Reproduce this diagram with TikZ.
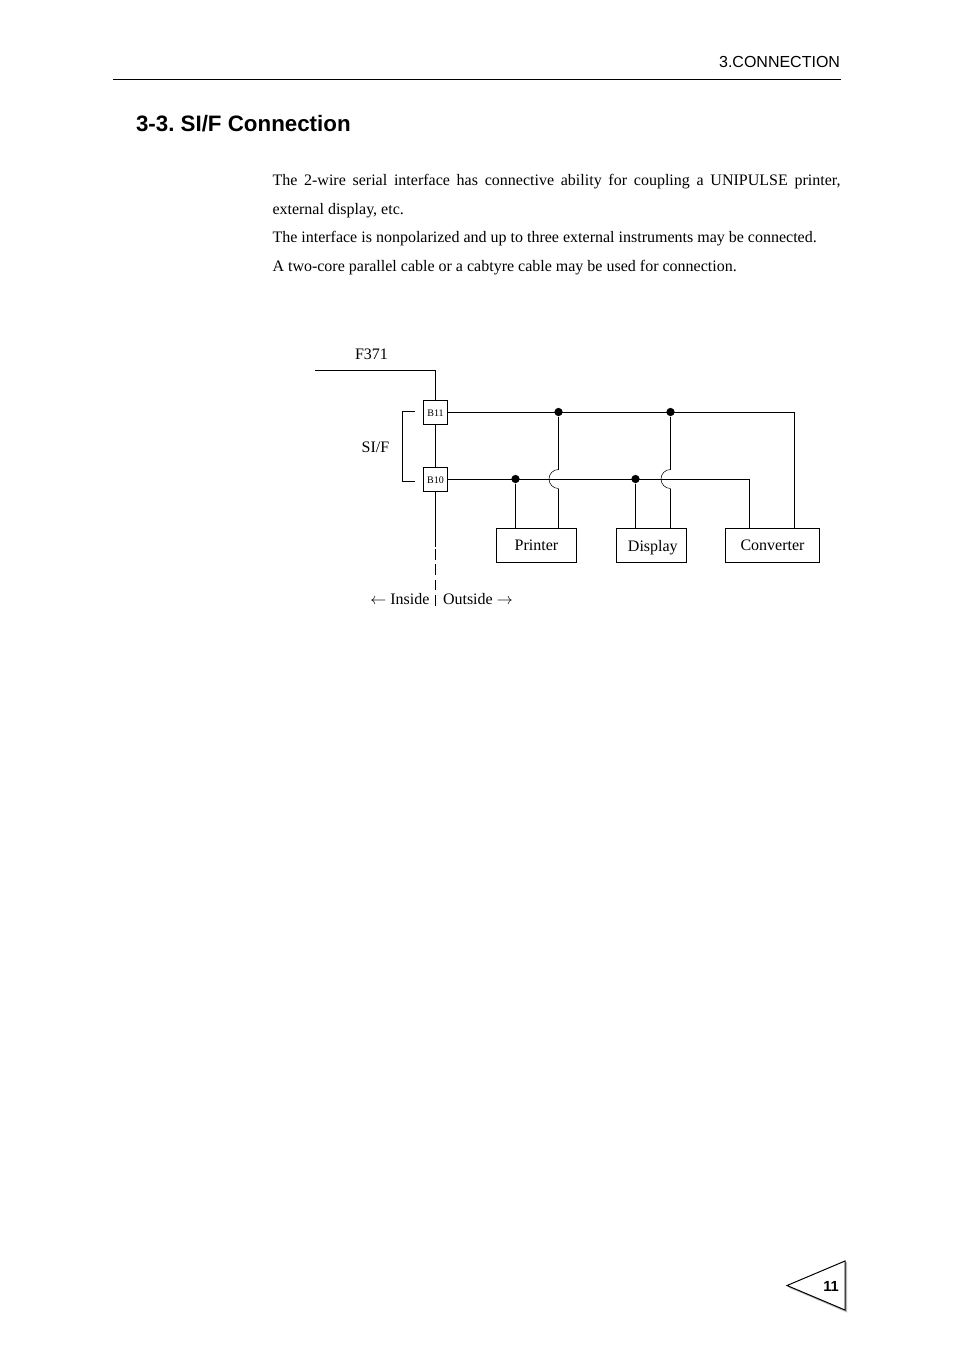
\documentclass[tikz,border=0pt]{standalone}
\usepackage{fontspec}
\setmainfont{Liberation Serif}
\newfontfamily\headfont{Liberation Sans}
\usepackage{tikz}
\usetikzlibrary{arrows.meta,positioning,calc}

\begin{document}
\begin{tikzpicture}[x=0.75pt, y=-0.75pt, font=\fontsize{12}{14}\selectfont, line width=0.75pt]
  % ------- styles -------
  \tikzstyle{unitbox}=[draw, minimum height=25.5pt, inner sep=0pt, align=center, text height=9.5pt, text depth=2pt]
  \tikzstyle{termbox}=[draw, minimum width=18pt, minimum height=18pt, inner sep=0pt, text height=6pt, text depth=0pt, font=\fontsize{7.5}{8}\selectfont]
  \tikzstyle{junction}=[circle, fill=black, inner sep=0pt, minimum size=6.2pt]
  \tikzstyle{wirejump}=[line width=0.4pt]
  \tikzstyle{label}=[inner sep=0pt]

  \useasboundingbox (0,0) rectangle (954,1351);
  \fill[white] (0,0) rectangle (954,1351);

  % ------- page header -------
  \node[label, anchor=base east, font=\headfont\fontsize{12}{14}\selectfont] (chapter) at (840.5,68) {3.CONNECTION};
  \coordinate (ruleL) at (113,79.5);
  \coordinate (ruleR) at (840.5,79.5);
  \draw (ruleL) -- (ruleR);
  \node[label, anchor=base west, font=\headfont\bfseries\fontsize{16.75}{20}\selectfont] (title) at (135.5,132) {3-3.\ SI/F Connection};

  % ------- body text -------
  \node[label, anchor=north west, text width=426pt, align=justify, font=\fontsize{12}{21.5}\selectfont] (body) at (272,173.8)
    {The 2-wire serial interface has connective ability for coupling a UNIPULSE printer,\linebreak external display, etc.\\
     The interface is nonpolarized and up to three external instruments may be connected.\\
     A two-core parallel cable or a cabtyre cable may be used for connection.};

  % ------- nodes -------
  \node[termbox] (b11) at (435.5,412.5) {B11};
  \node[termbox] (b10) at (435.5,479.5) {B10};
  \node[unitbox, minimum width=60pt] (printer) at (536.5,545.5) {Printer};
  \node[unitbox, minimum width=52.5pt, text height=10pt, text depth=1pt] (display) at (651.5,545.5) {\hspace*{2pt}Display};
  \node[unitbox, minimum width=70.5pt] (converter) at (772.5,545.5) {Converter};

  \node[junction] (j1) at (558.5,412) {};
  \node[junction] (j2) at (670.5,412) {};
  \node[junction] (j3) at (515.5,479) {};
  \node[junction] (j4) at (635.5,479) {};

  \node[label, anchor=base] (f371) at (371.5,359) {F371};
  \node[label, anchor=base] (sif) at (375.5,452) {SI/F};
  \node[label, anchor=base east] (inside) at (430,604) {$\leftarrow$ Inside};
  \node[label, anchor=base west] (outside) at (442.5,604) {Outside $\rightarrow$};

  \coordinate (f371L) at (315,370.5);
  \coordinate (f371R) at (435.5,370.5);
  \coordinate (sideA) at (435.5,547);
  \coordinate (sideB) at (435.5,607);
  \coordinate (brT) at (414.5,411.5);
  \coordinate (brB) at (414.5,481.5);
  \coordinate (jumpA) at (558.5,469.5);
  \coordinate (jumpB) at (558.5,488.5);
  \coordinate (jumpC) at (670.5,469.5);
  \coordinate (jumpD) at (670.5,488.5);
  \coordinate (convA) at (749.5,479.5);
  \coordinate (convB) at (794.5,412.5);

  % ------- wires -------
  \draw (f371L) -- (f371R) -- (b11);
  \draw (b11) -- (b10);
  \draw (b10) -- (sideA);
  \draw[dash pattern=on 8pt off 3.5pt, dash phase=-1.5pt] (sideA) -- (sideB);
  \draw (brT) -- ++(-12,0) |- (brB);

  \draw (b11) -- (convB) -- (convB |- converter.north);
  \draw (b10) -- (convA) -- (convA |- converter.north);

  \draw (j3) -- (j3 |- printer.north);
  \draw (j4) -- (j4 |- display.north);
  \draw (j1) -- (jumpA);
  \draw (jumpB) -- (jumpB |- printer.north);
  \draw (j2) -- (jumpC);
  \draw (jumpD) -- (jumpD |- display.north);

  % line hops
  \draw[wirejump] (jumpA) arc[start angle=-90, end angle=-270, radius=9.5];
  \draw[wirejump] (jumpC) arc[start angle=-90, end angle=-270, radius=9.5];

  % ------- page number -------
  \coordinate (tipP) at (787,1285.5);
  \coordinate (topP) at (845,1261);
  \coordinate (botP) at (845,1310);
  \fill[gray!55] ($(tipP)+(1.5,2)$) -- ($(topP)+(2,1)$) -- ($(botP)+(2,2.5)$) -- cycle;
  \draw[fill=white, line join=miter] (tipP) -- (topP) -- (botP) -- cycle;
  \node[label, anchor=base, font=\headfont\bfseries\fontsize{11}{12}\selectfont] (pageno) at (831,1291) {11};
\end{tikzpicture}
\end{document}
